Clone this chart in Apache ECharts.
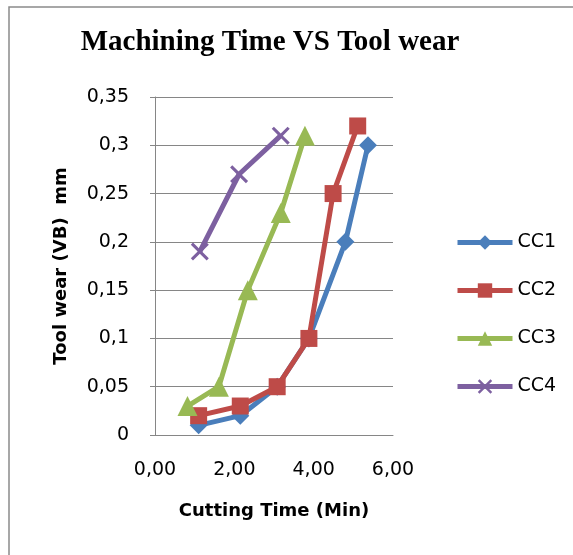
<!DOCTYPE html>
<html><head><meta charset="utf-8">
<script src="https://cdn.jsdelivr.net/npm/echarts@6/dist/echarts.min.js"></script>
<style>html,body{margin:0;padding:0;background:#fff}#c{width:573px;height:555px}</style>
</head><body><div id="c"></div>
<script>
const seriesNames = ['CC1', 'CC2', 'CC3', 'CC4'];
const cc1X = [1.10, 2.15, 3.08, 3.88, 4.80, 5.37];
const cc1Y = [0.01, 0.02, 0.05, 0.10, 0.20, 0.30];
const cc2X = [1.10, 2.15, 3.08, 3.88, 4.49, 5.11];
const cc2Y = [0.02, 0.03, 0.05, 0.10, 0.25, 0.32];
const cc3X = [0.82, 1.61, 2.34, 3.17, 3.78];
const cc3Y = [0.03, 0.05, 0.15, 0.23, 0.31];
const cc4X = [1.13, 2.12, 3.17];
const cc4Y = [0.19, 0.27, 0.31];
const titleText = 'Machining Time VS Tool wear';
const xName = 'Cutting Time (Min)';
const yName = 'Tool wear (VB)  mm';

const colors = ['#4A7EBB', '#BE4B48', '#98B954', '#7D60A0'];
const symbols = ['diamond', 'rect', 'triangle',
  'path://M0,1.2 L1.2,0 L5,3.8 L8.8,0 L10,1.2 L6.2,5 L10,8.8 L8.8,10 L5,6.2 L1.2,10 L0,8.8 L3.8,5 Z'];
const sizes = [18, 17, 20, 18];
const xs = [cc1X, cc2X, cc3X, cc4X];
const ys = [cc1Y, cc2Y, cc3Y, cc4Y];
const pair = (a, b) => a.map((v, i) => [v, b[i]]);

const axisFont = 'DejaVu Sans';
const chart = echarts.init(document.getElementById('c'), null, {renderer: 'canvas'});
chart.setOption({
  animation: false,
  backgroundColor: '#fff',
  title: {
    text: titleText, left: 265, top: 23, textAlign: 'center',
    textStyle: {fontFamily: 'Liberation Serif', fontWeight: 'bold', fontSize: 29, color: '#000'}
  },
  graphic: [{
    type: 'rect', shape: {x: 9, y: 7, width: 600, height: 600},
    style: {fill: 'none', stroke: '#8a8a8a', lineWidth: 1.5}, z: -1
  }],
  grid: {left: 155, top: 97, right: 180, bottom: 120},
  legend: {
    orient: 'vertical', left: 455, top: 233, padding: 0, itemGap: 29, itemWidth: 55, itemHeight: 18,
    lineStyle: {width: 5},
    textStyle: {fontFamily: axisFont, fontSize: 19, color: '#000'},
    data: seriesNames
  },
  xAxis: {
    type: 'value', min: 0, max: 6, interval: 2,
    name: xName, nameLocation: 'middle', nameGap: 67,
    nameTextStyle: {fontFamily: axisFont, fontWeight: 'bold', fontSize: 18, color: '#000'},
    axisLine: {show: true, lineStyle: {color: '#868686', width: 1}},
    axisTick: {show: false},
    splitLine: {show: false},
    axisLabel: {margin: 26, fontFamily: axisFont, fontSize: 19, color: '#000',
      formatter: v => v.toFixed(2).replace('.', ',')}
  },
  yAxis: {
    type: 'value', min: 0, max: 0.35, interval: 0.05,
    name: yName, nameLocation: 'middle', nameGap: 85,
    nameTextStyle: {fontFamily: axisFont, fontWeight: 'bold', fontSize: 18, color: '#000'},
    axisLine: {show: true, lineStyle: {color: '#868686', width: 1}},
    axisTick: {show: true, length: 5, lineStyle: {color: '#868686'}},
    splitLine: {show: true, lineStyle: {color: '#868686', width: 1}},
    axisLabel: {margin: 26, fontFamily: axisFont, fontSize: 19, color: '#000',
      formatter: v => String(+v.toFixed(2)).replace('.', ',')}
  },
  series: seriesNames.map((n, i) => ({
    name: n, type: 'line', data: pair(xs[i], ys[i]),
    symbol: symbols[i], symbolSize: sizes[i], showSymbol: true,
    lineStyle: {color: colors[i], width: 5},
    itemStyle: {color: colors[i]},
    z: 2 + i
  }))
});
</script></body></html>
